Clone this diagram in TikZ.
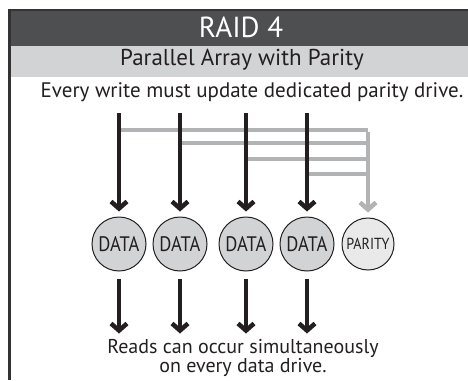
\documentclass[tikz,border=0pt]{standalone}
\usepackage{fontspec}
\setmainfont{PT Sans}
\newfontfamily\narrowsans{PT Sans}[FakeStretch=0.88]
\usetikzlibrary{arrows.meta}
\definecolor{hdr}{HTML}{4E4F51}
\definecolor{band}{HTML}{D2D3D4}
\definecolor{rule}{HTML}{333333}
\definecolor{ink}{HTML}{231F20}
\definecolor{wire}{HTML}{B2B3B5}
\definecolor{diskfill}{HTML}{D2D3D4}
\definecolor{parfill}{HTML}{E9E9EA}
\tikzset{
  txt/.style={inner sep=0pt, text=ink, font=\fontsize{21}{21}\selectfont},
  disk/.style={circle, draw=ink, line width=1pt, fill=diskfill, minimum size=54pt, inner sep=0pt,
    text=ink, font=\narrowsans\fontsize{21}{21}\selectfont},
  pdisk/.style={disk, fill=parfill, minimum size=52pt, font=\narrowsans\fontsize{16}{16}\selectfont},
  tip/.style={-{Straight Barb[length=7pt,width=16pt,line width=4.5pt]}},
  dn/.style={draw=ink, line width=4pt, tip},
  pdn/.style={draw=wire, line width=4pt, tip},
  feed/.style={draw=wire, line width=4pt},
}
\begin{document}
\begin{tikzpicture}[x=1pt,y=-1pt]
\useasboundingbox (0,0) rectangle (468,380);
% header bands and frame
\fill[hdr] (9,10) rectangle (468,46);
\fill[band] (9,46) rectangle (468,77);
\draw[rule, line width=1.5pt] (468,10) -- (9,10);
\draw[rule, line width=3pt] (9,9.25) -- (9,380);

\node[inner sep=0pt, text=white, font=\fontsize{29}{29}\selectfont] (title) at (241,27) {RAID 4};
\node[txt, font=\fontsize{23}{23}\selectfont] (sub) at (242,59.5) {Parallel Array with Parity};
\node[txt] (wr) at (252,92) {Every write must update dedicated parity drive.};

% drives
\node[disk] (d1) at (119,244) {DATA};
\node[disk] (d2) at (180,244) {DATA};
\node[disk] (d3) at (246,244) {DATA};
\node[disk] (d4) at (307,244) {DATA};
\node[pdisk] (p) at (368,244) {PARITY};

% write inputs
\foreach \i/\x in {1/119,2/180,3/246,4/307}{
  \coordinate (w\i) at (\x,113);
}
\coordinate (j1) at (368,130);
\coordinate (j2) at (368,143);
\coordinate (j3) at (368,159);
\coordinate (j4) at (368,174);

% parity feed lines
\draw[feed] (w1 |- j1) -- (j1);
\draw[feed] (w2 |- j2) -- (j2);
\draw[feed] (w3 |- j3) -- (j3);
\draw[feed] (w4 |- j4) -- (j4);
\draw[pdn, shorten >=5pt] ([yshift=-2pt]j1) -- (p.north);

% writes down to drives
\foreach \i in {1,2,3,4}{
  \draw[dn, shorten >=5pt] (w\i) -- (d\i.north);
}

% reads out of drives
\foreach \i in {1,2,3,4}{
  \coordinate (r\i) at ([yshift=-62pt]d\i.south);
  \draw[dn, shorten <=7pt] (d\i.south) -- (r\i);
}

\node[txt, align=center, font=\fontsize{20}{17.5}\selectfont, anchor=north] (rd) at (243,339)
  {Reads can occur simultaneously\\on every data drive.};
\end{tikzpicture}
\end{document}
